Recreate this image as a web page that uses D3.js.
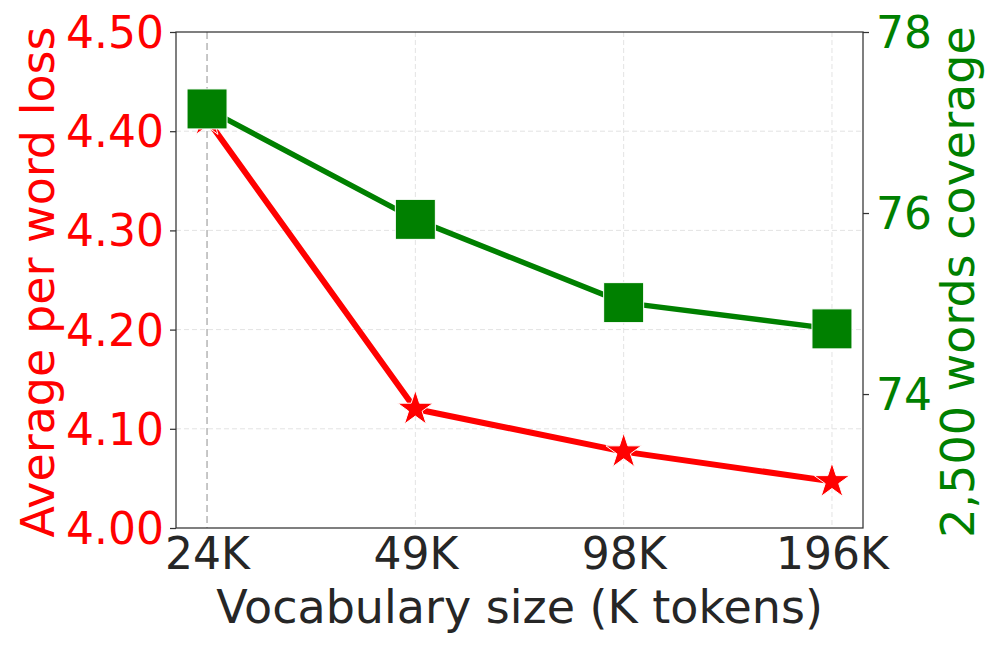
<!DOCTYPE html>
<html>
<head>
<meta charset="utf-8">
<script src="https://cdn.jsdelivr.net/npm/d3@7"></script>
<style>
html,body{margin:0;padding:0;background:#fff;}
svg{display:block;font-family:"DejaVu Sans",sans-serif;}
</style>
</head>
<body>
<svg id="chart" width="997" height="648"></svg>
<script>
const categories = ["24K", "49K", "98K", "196K"];
const lossValues = [4.412, 4.12, 4.077, 4.047];
const coverageValues = [77.15, 75.93, 75.01, 74.72];
const leftTicks = [4.00, 4.10, 4.20, 4.30, 4.40, 4.50];
const rightTicks = [74, 76, 78];

const svg = d3.select("#chart");
const L = 176, R = 863, T = 32, B = 528;
const red = "#ff0000", green = "#008000";

const x = d3.scalePoint().domain(categories).range([L, R]).padding(0.149);
const yL = d3.scaleLinear().domain([4.0, 4.5]).range([B, T]);
const yR = d3.scaleLinear().domain([72.52, 78]).range([B, T]);

// grid
const grid = svg.append("g");
grid.selectAll("line.h").data(leftTicks.filter(d => d > 4.0 && d < 4.5)).enter().append("line")
  .attr("x1", L).attr("x2", R).attr("y1", d => yL(d)).attr("y2", d => yL(d))
  .attr("stroke", "#e3e3e3").attr("stroke-width", 1).attr("stroke-dasharray", "5,3");
grid.selectAll("line.v").data(categories.slice(1)).enter().append("line")
  .attr("y1", T).attr("y2", B).attr("x1", d => x(d)).attr("x2", d => x(d))
  .attr("stroke", "#e3e3e3").attr("stroke-width", 1).attr("stroke-dasharray", "5,3");

// red series
const lineL = d3.line().x((d, i) => x(categories[i])).y(d => yL(d));
svg.append("path").datum(lossValues).attr("d", lineL)
  .attr("fill", "none").attr("stroke", red).attr("stroke-width", 6).attr("stroke-linejoin", "round");
const star = d3.symbol().type(d3.symbolStar).size(390);
svg.selectAll("path.star").data(lossValues).enter().append("path")
  .attr("d", star)
  .attr("transform", (d, i) => `translate(${x(categories[i])},${yL(d)})`)
  .attr("fill", red).attr("stroke", "#fff").attr("stroke-width", 1);

// reference vertical dashed line
svg.append("line").attr("x1", x(categories[0])).attr("x2", x(categories[0]))
  .attr("y1", T).attr("y2", B).attr("stroke", "#b5b5b5").attr("stroke-width", 1.5)
  .attr("stroke-dasharray", "7,4");

// green series
const lineR = d3.line().x((d, i) => x(categories[i])).y(d => yR(d));
svg.append("path").datum(coverageValues).attr("d", lineR)
  .attr("fill", "none").attr("stroke", green).attr("stroke-width", 5.5).attr("stroke-linejoin", "round");
const sq = 40;
svg.selectAll("rect.sq").data(coverageValues).enter().append("rect")
  .attr("x", (d, i) => x(categories[i]) - sq / 2).attr("y", d => yR(d) - sq / 2)
  .attr("width", sq).attr("height", sq)
  .attr("fill", green).attr("stroke", "#fff").attr("stroke-width", 1);

// frame
svg.append("rect").attr("x", L).attr("y", T).attr("width", R - L).attr("height", B - T)
  .attr("fill", "none").attr("stroke", "#333").attr("stroke-width", 1.25);

// left axis
const axL = svg.append("g").attr("transform", `translate(${L},0)`)
  .call(d3.axisLeft(yL).tickValues(leftTicks).tickFormat(d3.format(".2f")).tickSize(6).tickPadding(6));
axL.select(".domain").remove();
axL.selectAll("line").attr("stroke", "#333").attr("stroke-width", 1.25);
axL.selectAll("text").attr("fill", red).style("font-size", "44px").attr("font-family", "DejaVu Sans").attr("dy", "0.35em");

// right axis
const axR = svg.append("g").attr("transform", `translate(${R},0)`)
  .call(d3.axisRight(yR).tickValues(rightTicks).tickFormat(d3.format("d")).tickSize(6).tickPadding(7));
axR.select(".domain").remove();
axR.selectAll("line").attr("stroke", "#333").attr("stroke-width", 1.25);
axR.selectAll("text").attr("fill", green).style("font-size", "44px").attr("font-family", "DejaVu Sans").attr("dy", "0.35em");

// bottom axis
const axB = svg.append("g").attr("transform", `translate(0,${B})`)
  .call(d3.axisBottom(x).tickSize(0).tickPadding(10));
axB.select(".domain").remove();
axB.selectAll("text").attr("fill", "#262626").style("font-size", "44px").attr("font-family", "DejaVu Sans").attr("dy", "0.71em");

// labels
svg.append("text").attr("x", (L + R) / 2).attr("y", 607).attr("dy", "0.35em")
  .attr("text-anchor", "middle").attr("fill", "#262626").style("font-size", "46px")
  .text("Vocabulary size (K tokens)");
svg.append("text").attr("transform", `translate(38,${(T + B) / 2 + 2}) rotate(-90)`).attr("dy", "0.35em")
  .attr("text-anchor", "middle").attr("fill", red).style("font-size", "46px")
  .text("Average per word loss");
svg.append("text").attr("transform", `translate(958,${(T + B) / 2 + 2}) rotate(-90)`).attr("dy", "0.35em")
  .attr("text-anchor", "middle").attr("fill", green).style("font-size", "46px")
  .text("2,500 words coverage");
</script>
</body>
</html>
